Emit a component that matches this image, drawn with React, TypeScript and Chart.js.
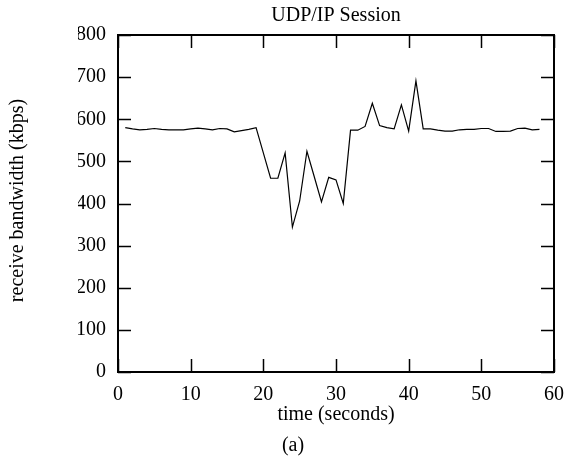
import React, { useEffect, useRef } from "react";
import { Chart, registerables } from "chart.js";

Chart.register(...registerables);

// Receive bandwidth sampled once per second during the UDP/IP session
const seconds = [
  1, 2, 3, 4, 5, 6, 7, 8, 9, 10, 11, 12, 13, 14, 15, 16, 17, 18, 19, 20,
  21, 22, 23, 24, 25, 26, 27, 28, 29, 30, 31, 32, 33, 34, 35, 36, 37, 38, 39, 40,
  41, 42, 43, 44, 45, 46, 47, 48, 49, 50, 51, 52, 53, 54, 55, 56, 57, 58,
];
const bandwidthKbps = [
  580, 577, 575, 576, 578, 576, 575, 575, 575, 577, 579, 577, 575, 578, 577, 570, 573, 576, 580, 520,
  460, 460, 520, 344, 406, 524, 464, 404, 462, 456, 400, 574, 574, 583, 638, 585, 580, 577, 634, 572,
  691, 577, 577, 574, 572, 572, 575, 576, 576, 578, 578, 571, 571, 572, 578, 579, 575, 576,
];

const titleText = "UDP/IP Session";
const xTitleText = "time (seconds)";
const yTitleText = "receive bandwidth (kbps)";
const captionText = "(a)";

const FONT = "'Liberation Serif', 'Times New Roman', serif";

// Boxed frame with inward ticks on all four sides, plus titles and caption
const framePlugin = {
  id: "frameAndText",
  afterDraw(chart: any) {
    const { ctx, chartArea } = chart;
    const { left, right, top, bottom } = chartArea;
    const xs = chart.scales.x;
    const ys = chart.scales.y;
    const tickLen = 13;
    ctx.save();
    ctx.strokeStyle = "#000";
    ctx.lineWidth = 1.5;
    ctx.beginPath();
    xs.ticks.forEach((t: any) => {
      const px = Math.round(xs.getPixelForValue(t.value)) + 0.5;
      ctx.moveTo(px, bottom);
      ctx.lineTo(px, bottom - tickLen);
      ctx.moveTo(px, top);
      ctx.lineTo(px, top + tickLen);
    });
    ys.ticks.forEach((t: any) => {
      const py = Math.round(ys.getPixelForValue(t.value)) + 0.5;
      ctx.moveTo(left, py);
      ctx.lineTo(left + tickLen, py);
      ctx.moveTo(right, py);
      ctx.lineTo(right - tickLen, py);
    });
    ctx.stroke();
    ctx.lineWidth = 2;
    ctx.strokeRect(left, top, right - left, bottom - top);

    const cx = (left + right) / 2;
    ctx.fillStyle = "#000";
    ctx.textAlign = "center";
    ctx.textBaseline = "middle";
    ctx.font = `20px ${FONT}`;
    ctx.fillText(titleText, cx, top - 19);
    ctx.fillText(xTitleText, cx, bottom + 43);
    ctx.fillText(captionText, cx - 43, bottom + 74);

    ctx.translate(18, (top + bottom) / 2 - 3);
    ctx.rotate(-Math.PI / 2);
    ctx.fillText(yTitleText, 0, 0);
    ctx.restore();
  },
};

export default function App() {
  const canvasRef = useRef<HTMLCanvasElement | null>(null);

  useEffect(() => {
    const canvas = canvasRef.current;
    if (!canvas) return;
    const points = seconds.map((s, i) => ({ x: s, y: bandwidthKbps[i] }));
    const chart = new Chart(canvas, {
      type: "line",
      data: {
        datasets: [
          {
            data: points,
            borderColor: "#000",
            borderWidth: 1.2,
            pointRadius: 0,
            tension: 0,
            fill: false,
          },
        ],
      },
      options: {
        animation: false,
        responsive: false,
        devicePixelRatio: 1,
        layout: { padding: { left: 78, right: 13, top: 35, bottom: 54 } },
        plugins: {
          legend: { display: false },
          tooltip: { enabled: false },
          title: { display: false },
        },
        scales: {
          x: {
            type: "linear",
            min: 0,
            max: 60,
            grid: { display: false, drawTicks: false },
            border: { display: false },
            ticks: {
              stepSize: 10,
              color: "#000",
              padding: 11,
              maxRotation: 0,
              font: { family: FONT, size: 20 },
            },
            afterFit: (s: any) => {
              s.height = 40;
              s.paddingLeft = 0;
              s.paddingRight = 0;
            },
          },
          y: {
            min: 0,
            max: 800,
            grid: { display: false, drawTicks: false },
            border: { display: false },
            ticks: {
              stepSize: 100,
              color: "#000",
              padding: 12,
              font: { family: FONT, size: 20 },
            },
            afterFit: (s: any) => {
              s.width = 40;
              s.paddingTop = 0;
              s.paddingBottom = 0;
            },
          },
        },
      },
      plugins: [framePlugin],
    });
    return () => chart.destroy();
  }, []);

  return (
    <div style={{ position: "fixed", left: 0, top: 0, width: 567, height: 466, background: "#fff" }}>
      <canvas ref={canvasRef} width={567} height={466} />
    </div>
  );
}
